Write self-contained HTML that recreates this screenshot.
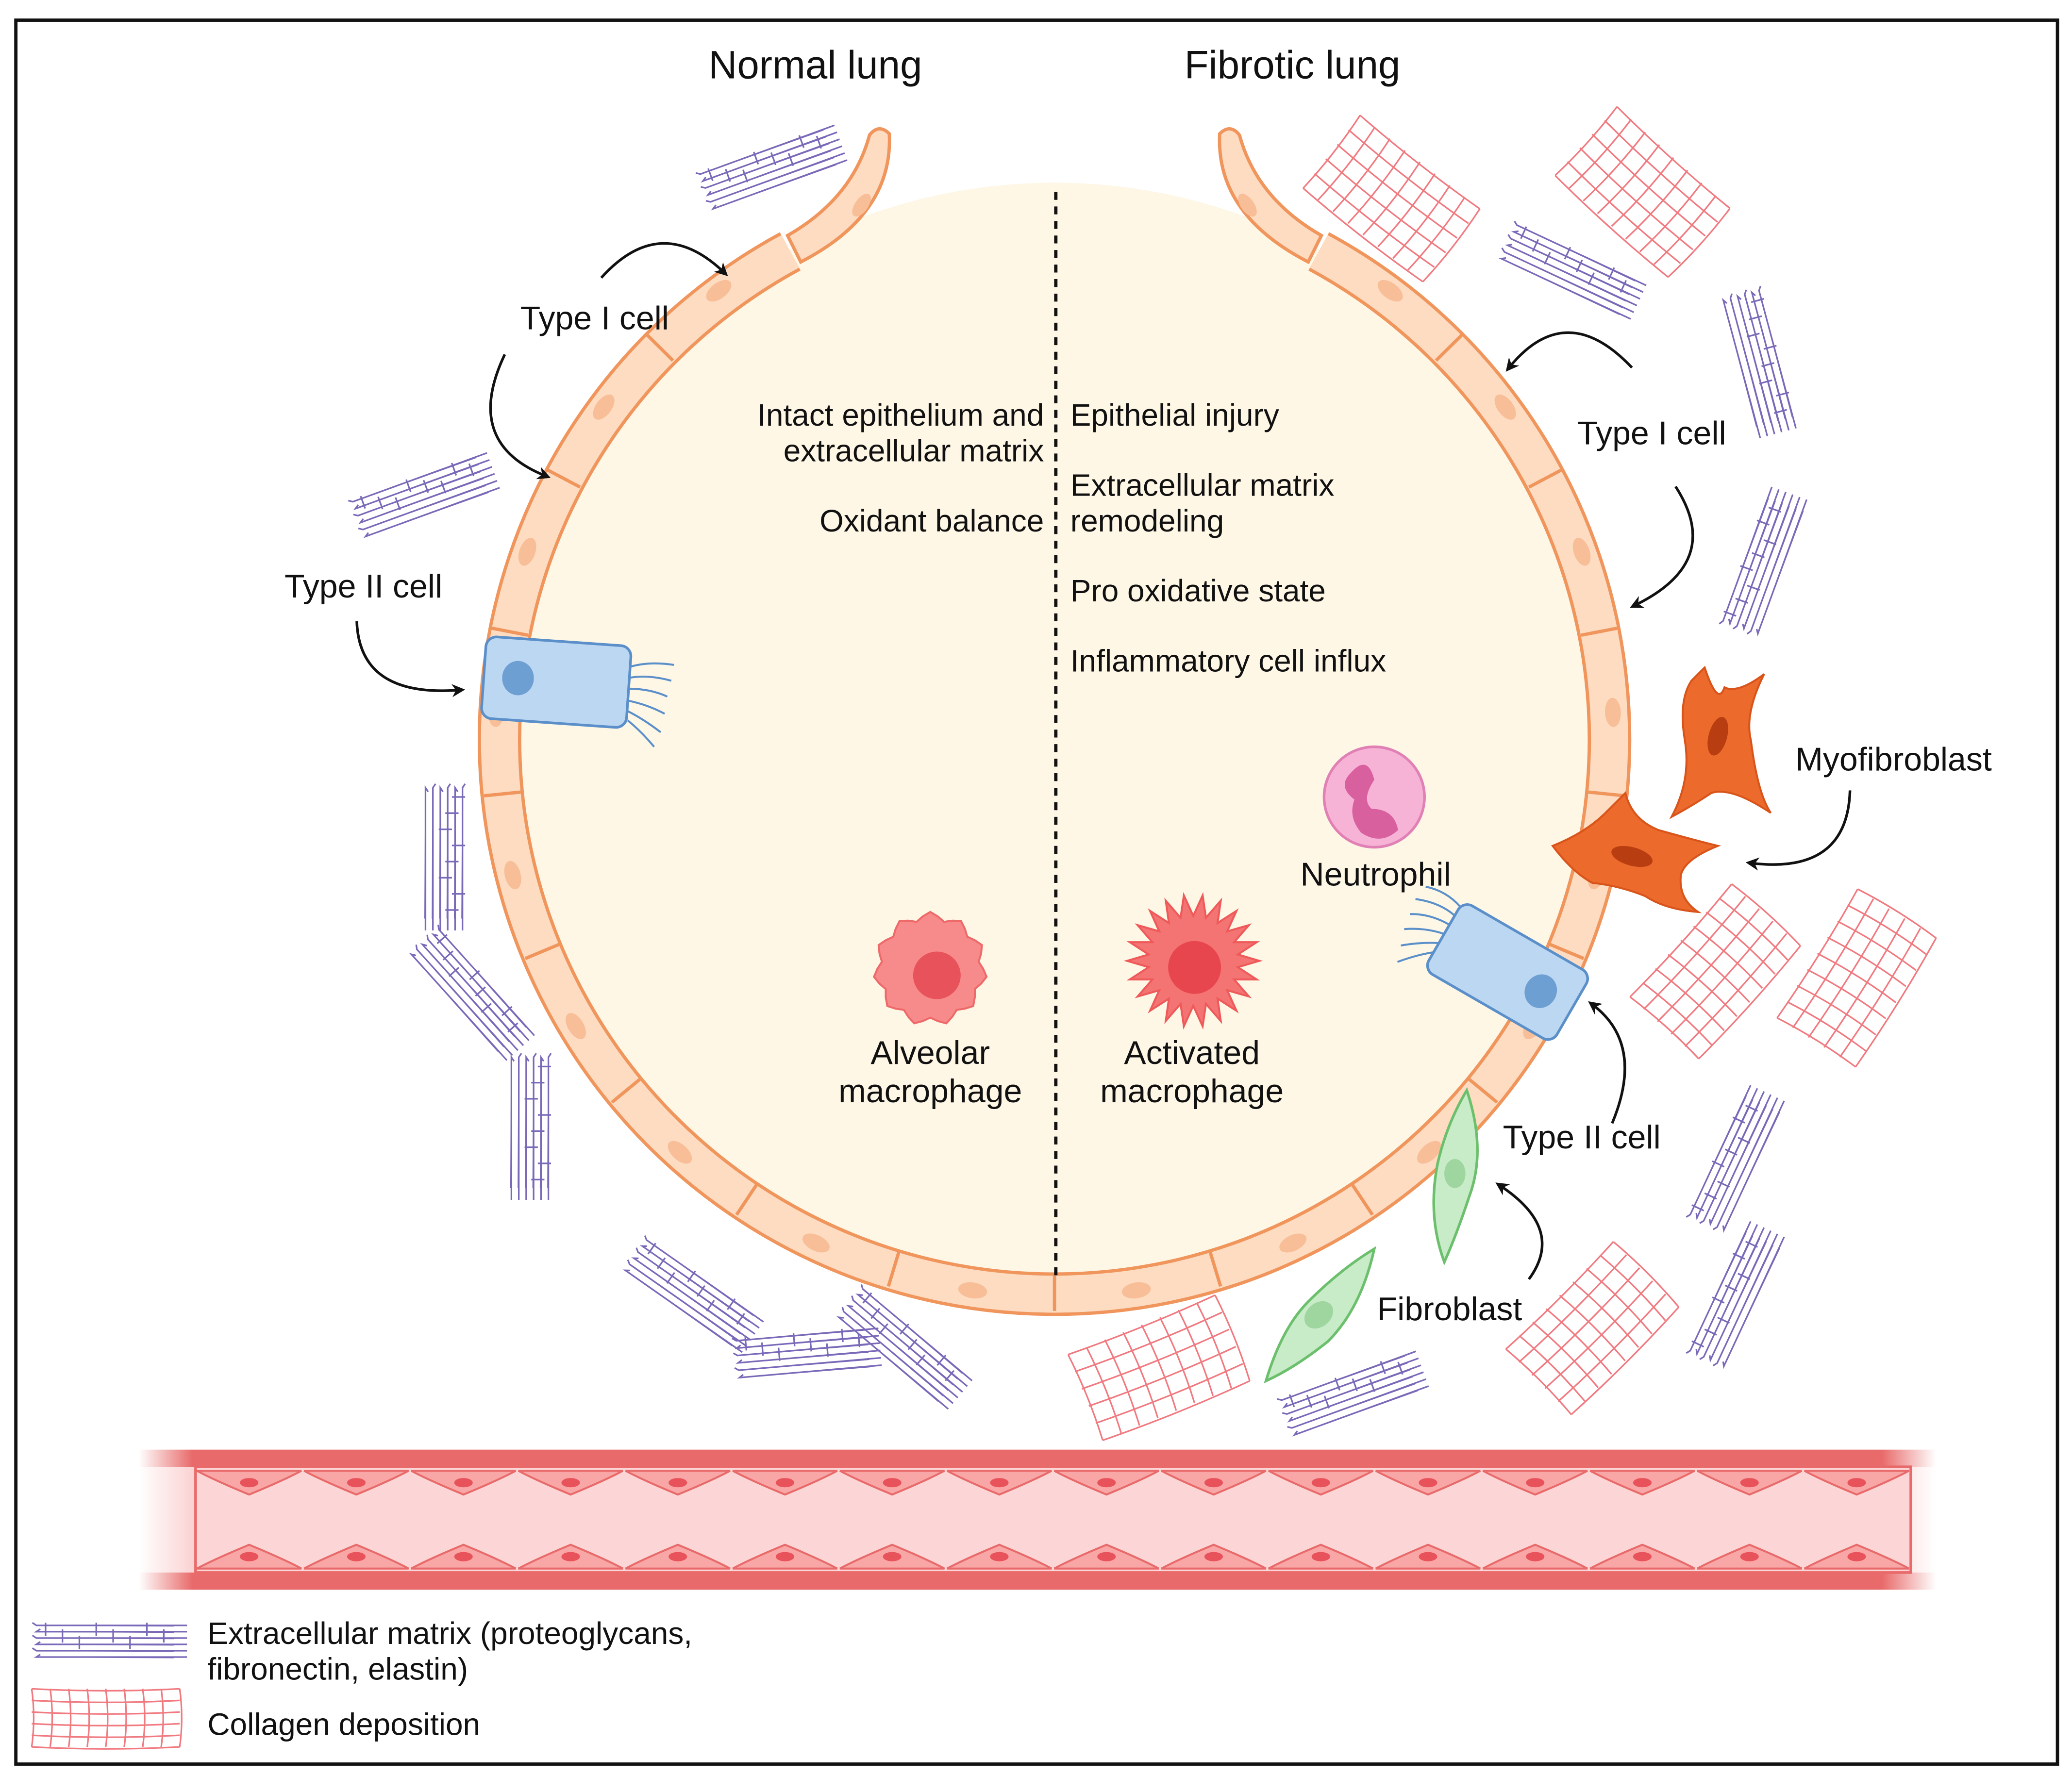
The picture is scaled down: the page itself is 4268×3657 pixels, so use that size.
<!DOCTYPE html>
<html><head><meta charset="utf-8">
<style>
html,body{margin:0;padding:0;background:#fff;}
svg{display:block;}
text{font-family:"Liberation Sans",sans-serif;fill:#111;}
</style></head>
<body>
<svg id="s" width="4268" height="3657" viewBox="0 0 1568 1343" xmlns="http://www.w3.org/2000/svg">
<defs>
<marker id="ah" viewBox="0 0 10 10" refX="6" refY="5" markerWidth="5" markerHeight="5" orient="auto">
<path d="M0,0 L10,5 L0,10 L3,5 z" fill="#111"/></marker>
<linearGradient id="vfade" x1="0" x2="1" y1="0" y2="0">
<stop offset="0" stop-color="#fff" stop-opacity="0"/><stop offset="0.03" stop-color="#fff" stop-opacity="1"/>
<stop offset="0.97" stop-color="#fff" stop-opacity="1"/><stop offset="1" stop-color="#fff" stop-opacity="0"/></linearGradient>
<mask id="vm"><rect x="105" y="1090" width="1360" height="120" fill="url(#vfade)"/></mask>
</defs>
<rect x="12" y="15" width="1545" height="1320" fill="#fff" stroke="#111" stroke-width="2.5"/>

<circle cx="798" cy="558" r="420" fill="#fef7e6"/>
<path d="M598,190 A420,420 0 1 0 998,190" fill="none" stroke="#f0955c" stroke-width="33"/>
<path d="M598,190 A420,420 0 1 0 998,190" fill="none" stroke="#fddcc2" stroke-width="28"/>
<g id="ring"></g>
<!-- arms -->
<path d="M596,178 Q645,150 658,102 Q665,93 673,101 Q676,162 606,198 Z" fill="#fddcc2" stroke="#f0955c" stroke-width="2.5"/>
<ellipse cx="652" cy="155" rx="5" ry="10" transform="rotate(35 652 155)" fill="#f8be98"/>
<path d="M1000,178 Q951,150 938,102 Q931,93 923,101 Q920,162 990,198 Z" fill="#fddcc2" stroke="#f0955c" stroke-width="2.5"/>
<ellipse cx="944" cy="155" rx="5" ry="10" transform="rotate(-35 944 155)" fill="#f8be98"/>

<line x1="799" y1="145" x2="799" y2="968" stroke="#111" stroke-width="2.5" stroke-dasharray="6,5"/>

<g id="deco"></g>

<path id="am" d="" fill="#f78b8b" stroke="#ee6a6a" stroke-width="1.5"/>
<circle cx="709" cy="738" r="18" fill="#e8525a"/>
<path id="acm" d="" fill="#f47474" stroke="#ee5a5a" stroke-width="1.5"/>
<circle cx="904" cy="732" r="20" fill="#e8464e"/>
<circle cx="1040" cy="603" r="38" fill="#f7b3d6" stroke="#e080b5" stroke-width="2"/>
<path d="M1022,585 Q1035,570 1040,590 Q1030,605 1038,612 Q1055,612 1058,628 Q1045,640 1030,630 Q1020,618 1025,605 Q1012,595 1022,585Z" fill="#d9609f"/>

<g>
<g stroke="#5b8fc9" stroke-width="1.5" fill="none">
<path d="M475,505 q15,-5 35,-2"/><path d="M475,513 q15,-3 33,2"/><path d="M475,521 q17,0 30,6"/><path d="M475,530 q15,3 28,10"/><path d="M475,538 q12,6 25,16"/><path d="M475,545 q10,8 20,20"/>
</g>
<rect x="366" y="485" width="110" height="62" rx="8" transform="rotate(4 420 515)" fill="#bcd7f1" stroke="#5b8fc9" stroke-width="2"/>
<ellipse cx="392" cy="513" rx="12" ry="13" fill="#6e9fd3"/>
</g>
<g transform="rotate(30 1140 735)">
<g stroke="#5b8fc9" stroke-width="1.5" fill="none">
<path d="M1085,710 q-15,-5 -30,0"/><path d="M1085,718 q-15,-3 -32,4"/><path d="M1085,726 q-17,0 -30,8"/><path d="M1085,734 q-15,3 -28,12"/><path d="M1085,742 q-12,6 -24,16"/><path d="M1085,750 q-10,8 -20,20"/>
</g>
<rect x="1085" y="705" width="112" height="60" rx="8" fill="#bcd7f1" stroke="#5b8fc9" stroke-width="2"/>
<ellipse cx="1170" cy="735" rx="12" ry="13" fill="#6e9fd3"/>
</g>

<path d="M1290,505 Q1300,535 1305,520 Q1315,525 1335,510 Q1320,540 1325,560 Q1330,600 1340,615 Q1310,595 1295,600 Q1280,610 1265,618 Q1280,590 1275,560 Q1270,530 1280,515Z" fill="#ec6a2c" stroke="#d9541a" stroke-width="1.5"/>
<ellipse cx="1300" cy="557" rx="7" ry="15" transform="rotate(15 1300 557)" fill="#b83d10"/>
<path d="M1175,640 Q1200,630 1215,615 Q1225,605 1230,600 Q1235,620 1255,628 Q1280,635 1300,640 Q1275,650 1272,662 Q1270,680 1285,690 Q1260,688 1245,678 Q1225,670 1205,668 Q1190,660 1175,640Z" fill="#ec6a2c" stroke="#d9541a" stroke-width="1.5"/>
<ellipse cx="1235" cy="648" rx="16" ry="7" transform="rotate(15 1235 648)" fill="#b83d10"/>

<path d="M1110,825 Q1125,870 1112,905 Q1102,935 1093,955 Q1080,920 1088,880 Q1095,850 1110,825Z" fill="#c8ebc8" stroke="#6cbf6c" stroke-width="2"/>
<ellipse cx="1101" cy="888" rx="8" ry="11" fill="#9fd69f"/>
<path d="M1040,945 Q1030,990 1005,1015 Q980,1035 958,1045 Q970,1005 990,985 Q1015,960 1040,945Z" fill="#c8ebc8" stroke="#6cbf6c" stroke-width="2"/>
<ellipse cx="998" cy="995" rx="12" ry="9" transform="rotate(-40 998 995)" fill="#9fd69f"/>

<g fill="none" stroke="#111" stroke-width="2" marker-end="url(#ah)">
<path d="M455,210 Q500,160 548,206"/>
<path d="M382,268 Q350,335 413,360"/>
<path d="M270,470 Q272,528 348,522"/>
<path d="M1235,278 Q1185,225 1142,278"/>
<path d="M1268,368 Q1305,425 1237,458"/>
<path d="M1400,598 Q1398,662 1325,653"/>
<path d="M1220,850 Q1245,790 1205,760"/>
<path d="M1157,968 Q1185,930 1135,897"/>
</g>

<g mask="url(#vm)">
<rect x="105" y="1097" width="1360" height="106" fill="#e86a6a"/>
<rect x="105" y="1110" width="1360" height="80" fill="#fbd3d3"/>
</g>
<rect x="148" y="1110" width="1298" height="80" fill="#fcd6d6" stroke="#e86a6a" stroke-width="2"/>
<g id="vessel"></g>

<g font-size="30" text-anchor="middle">
<text x="617" y="59">Normal lung</text>
<text x="978" y="59">Fibrotic lung</text>
</g>
<g font-size="25">
<text x="450" y="249" text-anchor="middle">Type I cell</text>
<text x="275" y="452" text-anchor="middle">Type II cell</text>
<text x="1250" y="336" text-anchor="middle">Type I cell</text>
<text x="1433" y="583" text-anchor="middle">Myofibroblast</text>
<text x="1041" y="670" text-anchor="middle">Neutrophil</text>
<text x="704" y="805" text-anchor="middle">Alveolar</text>
<text x="704" y="834" text-anchor="middle">macrophage</text>
<text x="902" y="805" text-anchor="middle">Activated</text>
<text x="902" y="834" text-anchor="middle">macrophage</text>
<text x="1197" y="869" text-anchor="middle">Type II cell</text>
<text x="1097" y="999" text-anchor="middle">Fibroblast</text>
</g>
<g font-size="23.5">
<text x="790" y="322" text-anchor="end">Intact epithelium and</text>
<text x="790" y="349" text-anchor="end">extracellular matrix</text>
<text x="790" y="402" text-anchor="end">Oxidant balance</text>
<text x="810" y="322">Epithelial injury</text>
<text x="810" y="375">Extracellular matrix</text>
<text x="810" y="402">remodeling</text>
<text x="810" y="455">Pro oxidative state</text>
<text x="810" y="508">Inflammatory cell influx</text>
<text x="157" y="1244">Extracellular matrix (proteoglycans,</text>
<text x="157" y="1271">fibronectin, elastin)</text>
<text x="157" y="1313">Collagen deposition</text>
</g>
</svg>
<script>
(function(){
var NS="http://www.w3.org/2000/svg";
function el(p,tag,a){var e=document.createElementNS(NS,tag);for(var k in a)e.setAttribute(k,a[k]);p.appendChild(e);return e;}
var ring=document.getElementById('ring');
var cx=798,cy=558,r=420;
var n=18;
var total=241.5-(-61.5);
for(var i=0;i<=n;i++){
 var a=(241.5-total*i/n)*Math.PI/180;
 var x1=cx+(r-14)*Math.cos(a),y1=cy+(r-14)*Math.sin(a),x2=cx+(r+14)*Math.cos(a),y2=cy+(r+14)*Math.sin(a);
 if(i>0&&i<n) el(ring,'line',{x1:x1,y1:y1,x2:x2,y2:y2,stroke:'#f0955c','stroke-width':2.5});
 if(i<n){var am=(241.5-total*(i+0.5)/n);var ar=am*Math.PI/180;
  var ex=cx+(r+3)*Math.cos(ar),ey=cy+(r+3)*Math.sin(ar);
  el(ring,'ellipse',{cx:ex,cy:ey,rx:11,ry:6,fill:'#f8be98',transform:'rotate('+(am+90)+' '+ex+' '+ey+')'});}
}
function blob(cx,cy,r,n,amp){var d='';for(var i=0;i<=n*4;i++){var t=i/(n*4)*2*Math.PI;var rr=r+amp*Math.sin(t*n);d+=(i?'L':'M')+(cx+rr*Math.cos(t)).toFixed(1)+','+(cy+rr*Math.sin(t)).toFixed(1);}return d+'Z';}
document.getElementById('am').setAttribute('d',blob(704,733,40,11,3));
var d='';var N=22;for(var i=0;i<N*2;i++){var t=i/(N*2)*2*Math.PI;var rr=i%2?34:50;d+=(i?'L':'M')+(903+rr*Math.cos(t)).toFixed(1)+','+(727+rr*Math.sin(t)).toFixed(1);}
document.getElementById('acm').setAttribute('d',d+'Z');
var deco=document.getElementById('deco');
function ecm(x,y,ang,len,wid){var g=el(deco,'g',{transform:'translate('+x+' '+y+') rotate('+ang+')',fill:'none',stroke:'#7a68b8','stroke-width':1.2});
 var rows=6;for(var j=0;j<rows;j++){var yy=-wid/2+j*wid/(rows-1);var dd='M'+(-len/2+(j%2)*6)+','+yy;
  for(var xx=-len/2;xx<len/2;xx+=6){dd+=' L'+(xx+3)+','+(yy+((xx/6)%2?2:-2));}
  el(g,'path',{d:dd});
  el(g,'path',{d:'M'+(-len/2+10)+','+(yy+2)+' L'+(len/2-8)+','+(yy+2.5),'stroke-width':0.8});}
 for(var k=0;k<8;k++){var xx=-len/2+10+k*len/9;el(g,'line',{x1:xx,y1:-wid/2+(k%3)*5,x2:xx,y2:-wid/2+(k%3)*5+10});}
}
function col(x,y,ang,w,h){var g=el(deco,'g',{transform:'translate('+x+' '+y+') rotate('+ang+')',fill:'none',stroke:'#f07a80','stroke-width':1.2});
 el(g,'rect',{x:-w/2,y:-h/2,width:w,height:h,stroke:'none',fill:'#fff'});
 for(var j=0;j<=5;j++){var yy=-h/2+j*h/5;el(g,'path',{d:'M'+(-w/2)+','+yy+' Q0,'+(yy+3)+' '+(w/2)+','+yy});}
 for(var k=0;k<=8;k++){var xx=-w/2+k*w/8;el(g,'path',{d:'M'+xx+','+(-h/2)+' Q'+(xx+3)+',0 '+xx+','+(h/2)});}
}
[[583,125,-20],[320,373,-20],[338,648,90],[358,750,48],[403,852,90],[525,978,35],[610,1022,-5],[685,1018,40],[1190,203,25],[1333,273,75],[1333,425,-70],[1312,877,-65],[1312,980,-65],[1023,1053,-20]].forEach(function(p){ecm(p[0],p[1],p[2],110,28);});
ecm(82,1240,0,115,24);
[[1053,150,38,115,70],[1243,145,42,115,70],[1298,735,-48,115,70],[1405,740,-58,115,70],[1205,1005,-45,115,70],[877,1035,-22,120,70]].forEach(function(p){col(p[0],p[1],p[2],p[3],p[4]);});
col(80,1300,0,112,44);
var v=document.getElementById('vessel');
for(var i=0;i<16;i++){var x0=148+i*81.1,x1=x0+81.1,xm=(x0+x1)/2;
 el(v,'path',{d:'M'+(x0+1)+',1113 L'+(x1-1)+',1113 Q'+(x1-14)+',1120 '+xm+',1131 Q'+(x0+14)+',1120 '+(x0+1)+',1113Z',fill:'#f9a6a6',stroke:'#e86a6a','stroke-width':1.5});
 el(v,'ellipse',{cx:xm,cy:1122,rx:7,ry:3.5,fill:'#e8525a'});
 el(v,'path',{d:'M'+(x0+1)+',1187 L'+(x1-1)+',1187 Q'+(x1-14)+',1180 '+xm+',1169 Q'+(x0+14)+',1180 '+(x0+1)+',1187Z',fill:'#f9a6a6',stroke:'#e86a6a','stroke-width':1.5});
 el(v,'ellipse',{cx:xm,cy:1178,rx:7,ry:3.5,fill:'#e8525a'});
}
})();
</script>
</body></html>
